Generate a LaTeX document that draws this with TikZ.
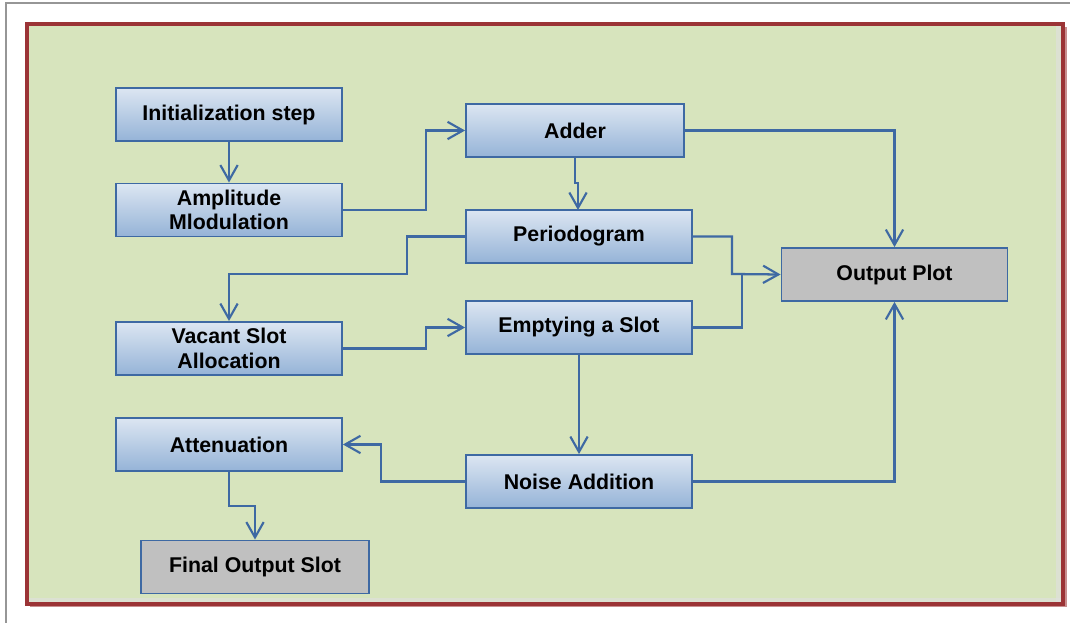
\documentclass[tikz,border=0pt]{standalone}
\usepackage{fontspec}
\setmainfont{Liberation Sans}
\usetikzlibrary{arrows.meta}
\definecolor{bgreen}{RGB}{215,228,189}
\definecolor{bred}{RGB}{155,52,54}
\definecolor{btop}{RGB}{220,230,242}
\definecolor{bbot}{RGB}{149,179,215}
\definecolor{bline}{RGB}{62,105,163}
\definecolor{gfill}{RGB}{192,192,192}
\definecolor{frame}{RGB}{150,150,150}
\tikzset{
  stepbox/.style={draw=bline, line width=1.4pt, top color=btop, bottom color=bbot,
    minimum width={226*0.75pt}, minimum height={53*0.75pt}, inner sep=0pt, align=center,
    font=\fontsize{16}{18.5}\selectfont\bfseries},
  outbox/.style={stepbox, top color=gfill, bottom color=gfill, fill=gfill},
  conn/.style={draw=bline, line width=1.7pt, -{Straight Barb[length=11.5pt,width=13pt,line width=1.6pt]}},
}
\begin{document}
\begin{tikzpicture}[x=0.75pt,y=-0.75pt]
\useasboundingbox (0,0) rectangle (1070,623);
\fill[white] (0,0) rectangle (1070,623);
\draw[frame, line width=1.5pt] (6,623) -- (6,3) -- (1070,3);
\fill[bred!55] (30,27) rectangle (1067,607);
\fill[bgreen] (27,24) rectangle (1063,604);
\fill[black!12,opacity=0.6] (29,598) rectangle (1061,602);
\fill[black!12,opacity=0.6] (1056,26) rectangle (1061,602);
\draw[bred, line width=2.4pt] (27,24) rectangle (1063,604);

\node[stepbox] (init) at (229,114.5) {Initialization step};
\node[stepbox] (amp) at (229,210) {Amplitude\\Mlodulation};
\node[stepbox, minimum width={218*0.75pt}] (adder) at (575,130.5) {Adder};
\node[stepbox] (perio) at (579,236.5) {Periodogram};
\node[outbox] (plot) at (894.5,274.5) {Output Plot};
\node[stepbox] (vacant) at (229,348.5) {Vacant Slot\\Allocation};
\node[stepbox] (empty) at (579,327.5) {Emptying a Slot};
\node[stepbox] (atten) at (229,444.5) {Attenuation};
\node[stepbox] (noise) at (579,481.5) {Noise Addition};
\node[outbox, minimum width={228*0.75pt}] (final) at (255,567) {Final Output Slot};

\coordinate (j) at (742,274);

\draw[conn] (init) -- (amp);
\draw[conn] (amp.east) -- (426,210) -- (426,130.5) -- (adder.west);
\draw[conn] (adder.east) -- (894.5,130.5) -- (plot.north);
\draw[conn] (575,157) -- (575,183) -- (578,183) -- (578,210);
\draw[conn] (perio.west) -- (407,236.5) -- (407,274) -- (229,274) -- (vacant.north);
\draw[conn] (perio.east) -- (732,236.5) -- (732,274) -- (plot.west);
\draw[line width=1.7pt, bline] (empty.east) -- (742,327.5) -- (j);
\draw[conn] (vacant.east) -- (426,348.5) -- (426,327.5) -- (empty.west);
\draw[conn] (empty.south) -- (noise.north);
\draw[conn] (noise.west) -- (381,481.5) -- (381,444.5) -- (atten.east);
\draw[conn] (noise.east) -- (894.5,481.5) -- (plot.south);
\draw[conn] (atten.south) -- (229,506) -- (255,506) -- (final.north);
\end{tikzpicture}
\end{document}
